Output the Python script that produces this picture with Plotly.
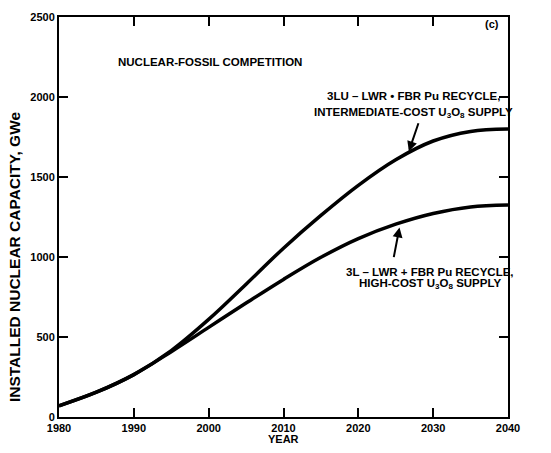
import plotly.graph_objects as go

years = [1980, 1985, 1990, 1995, 2000, 2005, 2010, 2015, 2020, 2025, 2030, 2035, 2040]
cap_3lu = [70, 155, 265, 415, 610, 830, 1055, 1260, 1448, 1608, 1725, 1785, 1800]
cap_3l = [70, 155, 265, 408, 560, 712, 860, 998, 1115, 1205, 1272, 1313, 1325]

x_ticks = [1980, 1990, 2000, 2010, 2020, 2030, 2040]
y_ticks = [0, 500, 1000, 1500, 2000, 2500]

FONT = "Liberation Sans, Arial, sans-serif"

fig = go.Figure()
for ys in (cap_3lu, cap_3l):
    fig.add_trace(go.Scatter(x=years, y=ys, mode="lines",
                             line=dict(color="black", width=3.5, shape="spline", smoothing=1.0),
                             showlegend=False, hoverinfo="skip"))

axis_common = dict(showline=True, linecolor="black", linewidth=2, mirror="ticks",
                   ticks="inside", ticklen=9, tickwidth=2, tickcolor="black",
                   showgrid=False, zeroline=False,
                   tickfont=dict(family=FONT, size=11, color="black", weight="bold"))

fig.update_xaxes(range=[1980, 2040], tickvals=x_ticks, ticktext=[str(v) for v in x_ticks], **axis_common)
fig.update_yaxes(range=[0, 2500], tickvals=y_ticks, ticktext=[str(v) for v in y_ticks], **axis_common)

def txt(x, y, s, size=11, xref="x", yref="y", angle=0, xanchor="center"):
    fig.add_annotation(x=x, y=y, xref=xref, yref=yref, text=s, showarrow=False,
                       textangle=angle, xanchor=xanchor, yanchor="middle",
                       font=dict(family=FONT, size=size, color="black", weight="bold"))

txt(2000.2, 2218, "NUCLEAR-FOSSIL COMPETITION", size=11.5)
txt(2037.8, 2455, "(c)", size=11)
txt(2027.4, 2005, "3LU – LWR • FBR Pu RECYCLE,", size=11.5)
txt(2027.4, 1900, "INTERMEDIATE-COST U<sub>3</sub>O<sub>8</sub> SUPPLY", size=11.5)
txt(2029.6, 909, "3L – LWR + FBR Pu RECYCLE,", size=11.5)
txt(2029.6, 830, "HIGH-COST U<sub>3</sub>O<sub>8</sub> SUPPLY", size=11.5)

txt(0.5, -0.055, "YEAR", size=11, xref="paper", yref="paper")
txt(-0.10, 0.40, "INSTALLED NUCLEAR CAPACITY, GWe", size=15.5, xref="paper", yref="paper", angle=-90)

# arrows
fig.add_annotation(x=2026.75, y=1660, ax=2028.1, ay=1845, xref="x", yref="y", axref="x", ayref="y",
                   text="", showarrow=True, arrowhead=2, arrowsize=1, arrowwidth=2, arrowcolor="black")
fig.add_annotation(x=2025.5, y=1185, ax=2024.7, ay=990, xref="x", yref="y", axref="x", ayref="y",
                   text="", showarrow=True, arrowhead=2, arrowsize=1, arrowwidth=2, arrowcolor="black")

fig.update_layout(width=551, height=453, margin=dict(l=59, r=43, t=17, b=36),
                  paper_bgcolor="white", plot_bgcolor="white")

fig.write_html("out.html", config={"displayModeBar": False},
               post_script="document.body.style.margin='0px';")
